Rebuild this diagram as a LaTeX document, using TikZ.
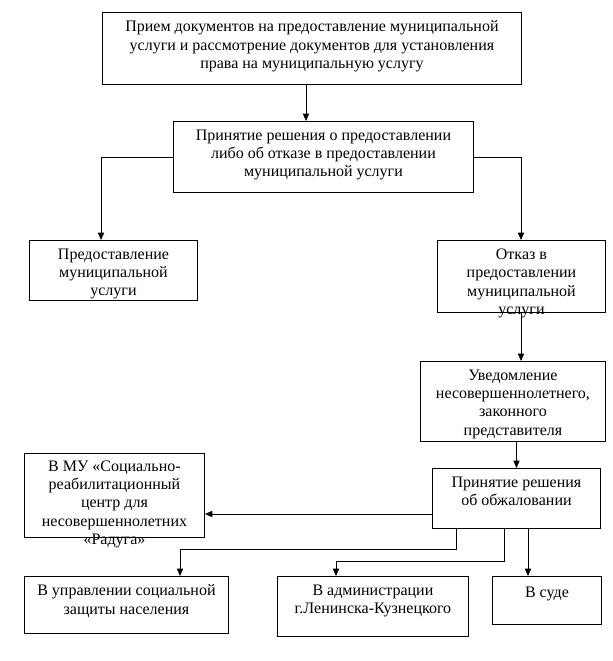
\documentclass[tikz,border=0pt]{standalone}
\usepackage{fontspec}
\setmainfont{Liberation Serif}
\usetikzlibrary{arrows.meta,calc}
\begin{document}
\begin{tikzpicture}[x=0.75pt,y=-0.75pt,
  box/.style={draw, line width=0.7pt, inner sep=0pt, anchor=north west},
  txt/.style={align=center, inner sep=0pt, anchor=north, font=\fontsize{12}{13.7}\selectfont, execute at begin node=\strut},
  arr/.style={line width=0.7pt, -{Triangle[length=5.5pt,width=4.6pt]}}]
\useasboundingbox (0,0) rectangle (613,661);
\fill[white] (0,0) rectangle (613,661);
% boxes
\node[box, minimum width={419*0.75pt}, minimum height={72*0.75pt}] (b1) at (102,12) {};
\node[box, minimum width={300*0.75pt}, minimum height={71*0.75pt}] (b2) at (173,121) {};
\node[box, minimum width={168*0.75pt}, minimum height={60*0.75pt}] (b3) at (29,240) {};
\node[box, minimum width={168*0.75pt}, minimum height={72*0.75pt}] (b4) at (437,240) {};
\node[box, minimum width={185*0.75pt}, minimum height={80*0.75pt}] (b5) at (420,361) {};
\node[box, minimum width={168*0.75pt}, minimum height={60*0.75pt}] (b6) at (432,468) {};
\node[box, minimum width={180*0.75pt}, minimum height={84*0.75pt}] (b7) at (24,453) {};
\node[box, minimum width={204*0.75pt}, minimum height={57*0.75pt}] (b8) at (24,576) {};
\node[box, minimum width={191*0.75pt}, minimum height={60*0.75pt}] (b9) at (277,576) {};
\node[box, minimum width={109*0.75pt}, minimum height={48*0.75pt}] (b10) at (492,576) {};
% texts
\node[txt] (t1) at ([yshift=-6.5pt]b1.north) {Прием документов на предоставление муниципальной\\услуги и рассмотрение документов для установления\\права на муниципальную услугу};
\node[txt] (t2) at ([yshift=-6.5pt]b2.north) {Принятие решения о предоставлении\\либо об отказе в предоставлении\\муниципальной услуги};
\node[txt] (t3) at ([yshift=-6.5pt]b3.north) {Предоставление\\муниципальной\\услуги};
\node[txt] (t4) at ([yshift=-6.5pt]b4.north) {Отказ в\\предоставлении\\муниципальной\\услуги};
\node[txt] (t5) at ([yshift=-6.5pt]b5.north) {Уведомление\\несовершеннолетнего,\\законного\\представителя};
\node[txt] (t6) at ([yshift=-6.5pt]b6.north) {Принятие решения\\об обжаловании};
\node[txt] (t7) at ([yshift=-5.5pt]b7.north) {В МУ «Социально-\\реабилитационный\\центр для\\несовершеннолетних\\«Радуга»};
\node[txt] (t8) at ([yshift=-6.5pt]b8.north) {В управлении социальной\\защиты населения};
\node[txt] (t9) at ([yshift=-6.5pt]b9.north) {В администрации\\г.Ленинска-Кузнецкого};
\node[txt] (t10) at ([yshift=-6.5pt]b10.north) {В суде};
% helper coordinates
\coordinate (x306) at (306,0);
\coordinate (x101) at (101,0);
\coordinate (x521) at (521,0);
\coordinate (x456) at (456,0);
\coordinate (x504) at (504,0);
\coordinate (x528) at (528,0);
\coordinate (x180) at (180,0);
\coordinate (x336) at (336,0);
\coordinate (y514) at (0,514);
\coordinate (y549) at (0,549);
\coordinate (y561) at (0,561);
% connectors
\draw[arr] (b1.south -| x306) -- (b2.north -| x306);
\draw[arr] (b2.west) -| (b3.north -| x101);
\draw[arr] (b2.east) -| (b4.north -| x521);
\draw[arr] (b4.south -| x521) -- (b5.north -| x521);
\draw[arr] (b5.south -| b6.north) -- (b6.north);
\draw[arr] (b6.west |- y514) -- (b7.east |- y514);
\draw[arr] (b6.south -| x456) -- (x456 |- y549) -| (b8.north -| x180);
\draw[arr] (b6.south -| x504) -- (x504 |- y561) -| (b9.north -| x336);
\draw[arr] (b6.south -| x528) -- (b10.north -| x528);
\end{tikzpicture}
\end{document}
